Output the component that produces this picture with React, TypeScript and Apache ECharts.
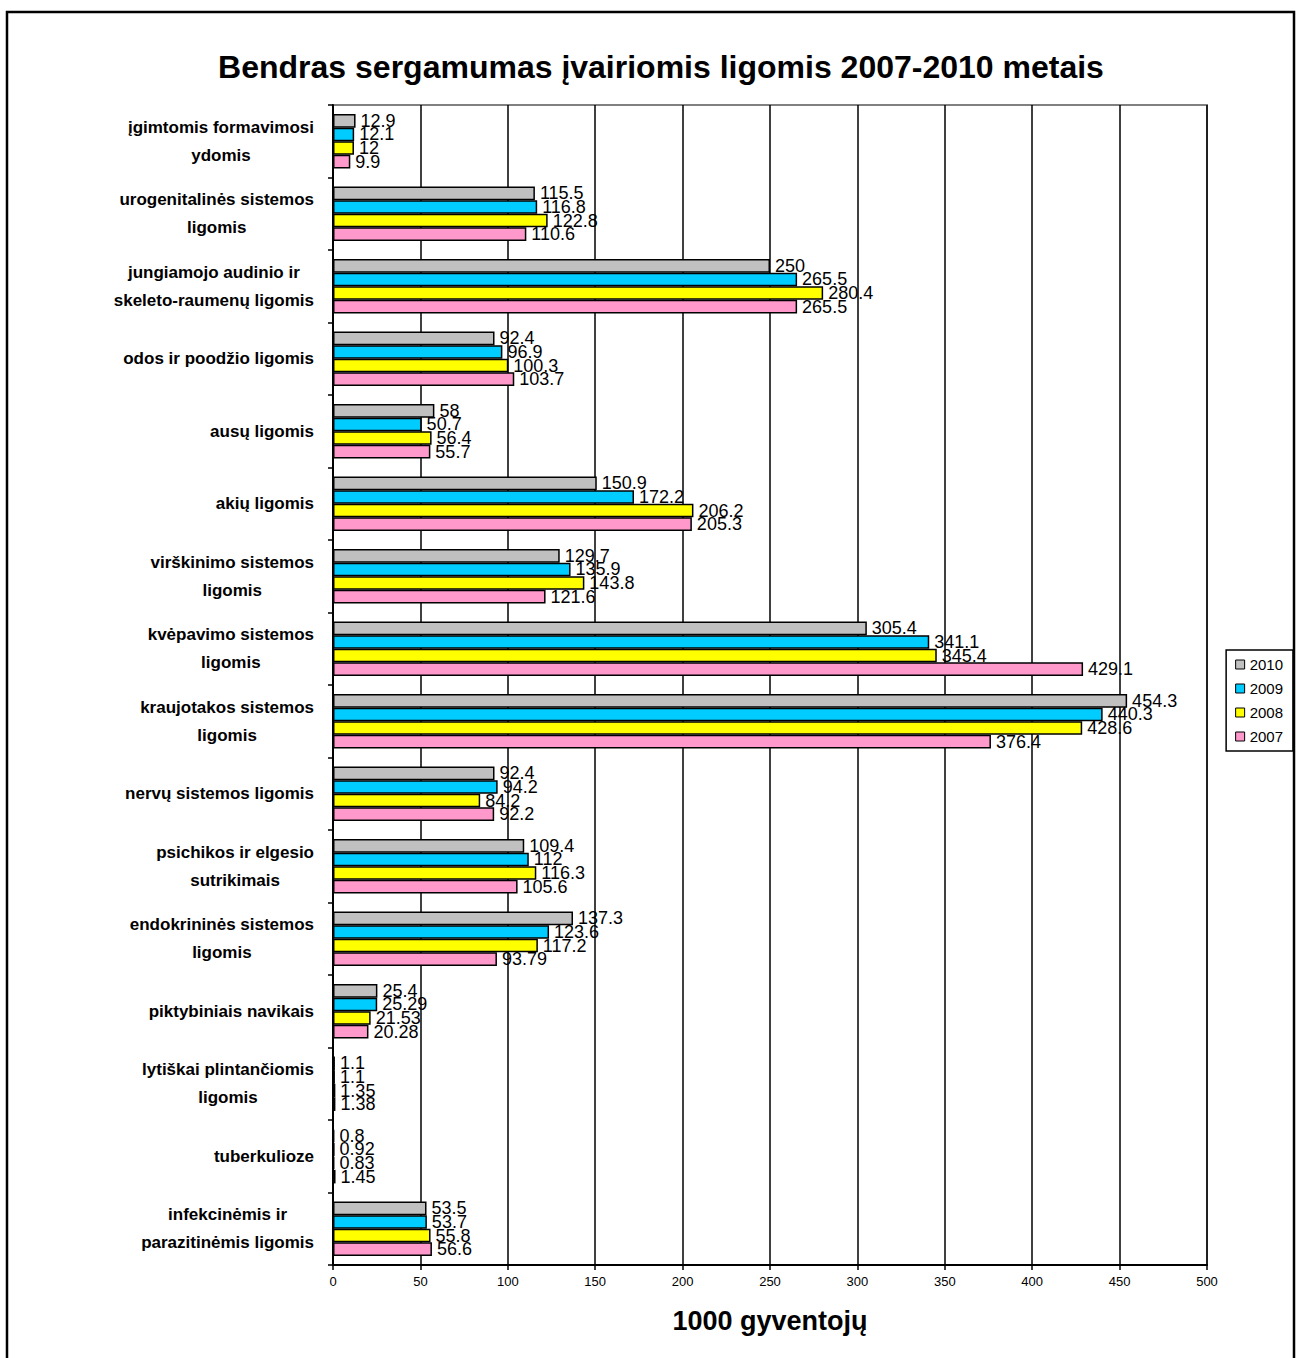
import React, { useEffect, useRef } from "react";
import * as echarts from "echarts";

const categories = [
  "įgimtomis formavimosi\nydomis",
  "urogenitalinės sistemos\nligomis",
  "jungiamojo audinio ir\nskeleto-raumenų ligomis",
  "odos ir poodžio ligomis",
  "ausų ligomis",
  "akių ligomis",
  "virškinimo sistemos\nligomis",
  "kvėpavimo sistemos\nligomis",
  "kraujotakos sistemos\nligomis",
  "nervų sistemos ligomis",
  "psichikos ir elgesio\nsutrikimais",
  "endokrininės sistemos\nligomis",
  "piktybiniais navikais",
  "lytiškai plintančiomis\nligomis",
  "tuberkulioze",
  "infekcinėmis ir\nparazitinėmis ligomis",
];

const v2010 = [12.9, 115.5, 250, 92.4, 58, 150.9, 129.7, 305.4, 454.3, 92.4, 109.4, 137.3, 25.4, 1.1, 0.8, 53.5];
const v2009 = [12.1, 116.8, 265.5, 96.9, 50.7, 172.2, 135.9, 341.1, 440.3, 94.2, 112, 123.6, 25.29, 1.1, 0.92, 53.7];
const v2008 = [12, 122.8, 280.4, 100.3, 56.4, 206.2, 143.8, 345.4, 428.6, 84.2, 116.3, 117.2, 21.53, 1.35, 0.83, 55.8];
const v2007 = [9.9, 110.6, 265.5, 103.7, 55.7, 205.3, 121.6, 429.1, 376.4, 92.2, 105.6, 93.79, 20.28, 1.38, 1.45, 56.6];

const seriesNames = ["2010", "2009", "2008", "2007"];
const seriesColors = ["#C0C0C0", "#00CCFF", "#FFFF00", "#FF99CC"];
const seriesValues = [v2010, v2009, v2008, v2007];

const xTicks = { min: 0, max: 500, interval: 50 };

const FONT = "'Liberation Sans', Arial, sans-serif";

export default function App() {
  const ref = useRef<HTMLDivElement>(null);
  useEffect(() => {
    if (!ref.current) return;
    const chart = echarts.init(ref.current, null, { renderer: "svg" });
    chart.setOption({
      animation: false,
      backgroundColor: "#ffffff",
      textStyle: { fontFamily: FONT },
      title: {
        text: "Bendras sergamumas įvairiomis ligomis 2007-2010 metais",
        left: 656,
        textAlign: "center",
        top: 46,
        textStyle: { fontFamily: FONT, fontSize: 32, fontWeight: "bold", color: "#000" },
      },
      graphic: [
        {
          type: "rect",
          shape: { x: 7, y: 12, width: 1287, height: 1400 },
          style: { fill: "none", stroke: "#000", lineWidth: 2.5 },
          silent: true,
        },
      ],
      legend: {
        orient: "vertical",
        right: 5,
        top: 650,
        data: seriesNames,
        itemWidth: 9,
        itemHeight: 9,
        itemGap: 9,
        padding: [7, 10, 7, 9],
        borderColor: "#000",
        borderWidth: 1.5,
        icon: "rect",
        itemStyle: { borderColor: "#000", borderWidth: 1 },
        textStyle: { fontFamily: FONT, fontSize: 15, color: "#000" },
      },
      grid: {
        left: 333,
        right: 91,
        top: 105,
        bottom: 93,
        show: true,
        borderColor: "#808080",
        borderWidth: 2,
        backgroundColor: "transparent",
      },
      xAxis: {
        type: "value",
        min: xTicks.min,
        max: xTicks.max,
        interval: xTicks.interval,
        name: "1000 gyventojų",
        nameLocation: "middle",
        nameGap: 42,
        nameTextStyle: { fontFamily: FONT, fontSize: 27, fontWeight: "bold", color: "#000" },
        axisLine: { show: true, lineStyle: { color: "#000", width: 2 } },
        axisTick: { show: true, length: 5, lineStyle: { color: "#000", width: 1.5 } },
        axisLabel: { fontFamily: FONT, fontSize: 13, color: "#000", margin: 10 },
        splitLine: { show: true, lineStyle: { color: "#000", width: 1.5 } },
      },
      yAxis: {
        type: "category",
        inverse: true,
        data: categories,
        axisLine: { show: true, lineStyle: { color: "#000", width: 2 } },
        axisTick: { show: true, length: 5, alignWithLabel: false, lineStyle: { color: "#000", width: 1.5 } },
        axisLabel: {
          margin: 19,
          align: "right",
          formatter: (v: string) => v.split("\n").map((l) => `{c|${l}}`).join("\n"),
          rich: {
            c: {
              fontFamily: FONT,
              fontSize: 17,
              fontWeight: "bold",
              color: "#000",
              lineHeight: 28,
              align: "center",
            },
          },
        },
        splitLine: { show: false },
      },
      series: seriesNames.map((name, i) => ({
        name,
        type: "bar",
        data: seriesValues[i],
        barGap: "0%",
        barCategoryGap: "25%",
        itemStyle: { color: seriesColors[i], borderColor: "#000", borderWidth: 1.5 },
        label: {
          show: true,
          position: "right",
          distance: 5,
          fontFamily: FONT,
          fontSize: 18,
          color: "#000",
        },
      })),
    });
    return () => chart.dispose();
  }, []);
  return (
    <div
      ref={ref}
      style={{ position: "absolute", left: 0, top: 0, width: 1298, height: 1358 }}
    />
  );
}
